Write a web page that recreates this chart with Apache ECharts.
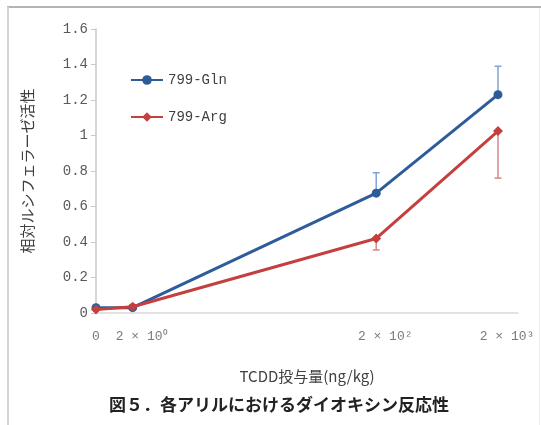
<!DOCTYPE html>
<html>
<head>
<meta charset="utf-8">
<script src="https://cdn.jsdelivr.net/npm/echarts@6/dist/echarts.min.js"></script>
<style>
html,body{margin:0;padding:0;background:#fff;}
#chart{width:541px;height:425px;}
</style>
</head>
<body>
<div id="chart"></div>
<script>
// Dose positions on the log axis (dose "0" is drawn at 1 = 10^0)
const xPositions = [1, 2, 200, 2000];
const xLabels = ['0', '2 × 10⁰', '2 × 10²', '2 × 10³'];
const seriesNames = ['799-Gln', '799-Arg'];
const glnValues = [0.03, 0.03, 0.675, 1.23];
const argValues = [0.02, 0.035, 0.42, 1.025];
const glnErrUp = [0, 0, 0.115, 0.16];
const argErrDown = [0, 0, 0.065, 0.265];
const yTicks = [0, 0.2, 0.4, 0.6, 0.8, 1, 1.2, 1.4, 1.6];
const yTitle = '相対ルシフェラーゼ活性';
const xTitle = 'TCDD投与量(ng/kg)';
const caption = '図５．各アリルにおけるダイオキシン反応性';

const BLUE = '#2E5C9B';
const RED = '#C4403F';
const BLUE_ERR = '#7FA4D3';
const RED_ERR = '#D48786';

function pairs(xs, ys) { return xs.map((x, i) => [x, ys[i]]); }

function errSeries(name, values, errs, dir, color) {
  return {
    type: 'custom',
    name: name + '-err',
    silent: true,
    z: 1,
    data: xPositions.map((x, i) => [x, values[i], errs[i]]),
    renderItem: function (params, api) {
      const x = api.value(0), y = api.value(1), e = api.value(2);
      if (!e) return null;
      const p0 = api.coord([x, y]);
      const p1 = api.coord([x, y + dir * e]);
      const cap = 3.5;
      return {
        type: 'group',
        children: [
          { type: 'line', shape: { x1: p0[0], y1: p0[1], x2: p1[0], y2: p1[1] }, style: { stroke: color, lineWidth: 1.5 } },
          { type: 'line', shape: { x1: p1[0] - cap, y1: p1[1], x2: p1[0] + cap, y2: p1[1] }, style: { stroke: color, lineWidth: 1.5 } }
        ]
      };
    }
  };
}

const chart = echarts.init(document.getElementById('chart'), null, { renderer: 'canvas' });
chart.setOption({
  animation: false,
  backgroundColor: '#fff',
  grid: { left: 96, right: 23, top: 29, bottom: 112, containLabel: false },
  graphic: [
    { type: 'rect', shape: { x: 7, y: 6, width: 534, height: 2 }, style: { fill: '#b4b4b4' }, silent: true },
    { type: 'rect', shape: { x: 7, y: 7, width: 2, height: 418 }, style: { fill: '#d4d4d4' }, silent: true },
    { type: 'rect', shape: { x: 539, y: 8, width: 1, height: 417 }, style: { fill: '#eeeeee' }, silent: true }
  ],
  title: {
    text: caption,
    left: 104,
    top: 391,
    textStyle: { fontFamily: 'Noto Sans CJK JP', fontSize: 17, fontWeight: 'bold', color: '#222' }
  },
  legend: {
    data: seriesNames,
    orient: 'vertical',
    left: 125,
    top: 68,
    itemGap: 23,
    itemWidth: 32,
    itemHeight: 12,
    textStyle: { fontFamily: 'Liberation Mono', fontSize: 14, color: '#404040' }
  },
  xAxis: {
    type: 'log',
    logBase: 10,
    min: 1,
    max: 2920,
    name: xTitle,
    nameLocation: 'middle',
    nameGap: 56,
    nameTextStyle: { fontFamily: 'Noto Sans CJK JP', fontSize: 15, color: '#404040' },
    axisLine: { show: true, lineStyle: { color: '#d9d9d9', width: 1.5 } },
    axisTick: { show: false },
    axisLabel: { show: false },
    splitLine: { show: false },
    minorTick: { show: false },
    minorSplitLine: { show: false }
  },
  yAxis: {
    type: 'value',
    min: yTicks[0],
    max: yTicks[yTicks.length - 1],
    interval: 0.2,
    name: yTitle,
    nameLocation: 'middle',
    nameGap: 61,
    nameRotate: 90,
    nameTextStyle: { fontFamily: 'Noto Sans CJK JP', fontSize: 15, color: '#404040' },
    axisLine: { show: true, lineStyle: { color: '#c8c8c8', width: 1.5 } },
    axisTick: { show: true, inside: false, length: 5, lineStyle: { color: '#c8c8c8' } },
    axisLabel: { fontFamily: 'Liberation Mono', fontSize: 14, color: '#595959', margin: 8 },
    splitLine: { show: false }
  },
  series: [
    errSeries('799-Arg', argValues, argErrDown, -1, RED_ERR),
    errSeries('799-Gln', glnValues, glnErrUp, 1, BLUE_ERR),
    {
      type: 'line',
      name: seriesNames[0],
      data: pairs(xPositions, glnValues),
      symbol: 'circle',
      symbolSize: 9,
      z: 3,
      lineStyle: { color: BLUE, width: 3 },
      itemStyle: { color: BLUE }
    },
    {
      type: 'line',
      name: seriesNames[1],
      data: pairs(xPositions, argValues),
      symbol: 'diamond',
      symbolSize: 10,
      z: 4,
      lineStyle: { color: RED, width: 3 },
      itemStyle: { color: RED }
    },
    {
      type: 'scatter',
      name: 'xlabels',
      silent: true,
      symbolSize: 1,
      clip: false,
      z: 0,
      data: xPositions.map((x, i) => ({
        value: [x, 0],
        label: { formatter: xLabels[i], offset: [i === 0 ? 0 : 9, 0] }
      })),
      label: {
        show: true,
        position: 'bottom',
        distance: 17,
        fontFamily: 'Liberation Mono',
        fontSize: 13,
        color: '#595959'
      },
      itemStyle: { color: 'rgba(0,0,0,0)' }
    }
  ]
});
</script>
</body>
</html>
